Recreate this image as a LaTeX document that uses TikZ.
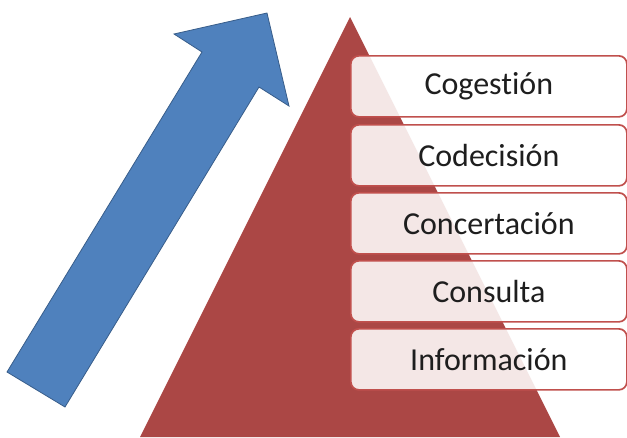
\documentclass[tikz,border=0pt]{standalone}
\usepackage{fontspec}
\setmainfont[Ligatures=NoCommon]{Carlito}
\definecolor{tri}{RGB}{171,71,69}
\definecolor{boxline}{RGB}{192,80,77}
\definecolor{arrowfill}{RGB}{79,129,189}
\definecolor{arrowline}{RGB}{56,93,138}
\definecolor{txt}{RGB}{30,30,30}
\tikzset{
  level/.style={draw=boxline, line width=1.7pt, fill=white, fill opacity=0.87, text opacity=1,
    rounded corners=8pt, minimum width=276pt, minimum height=61pt, inner sep=0pt,
    text=txt, font=\fontsize{32}{38}\selectfont, anchor=north west},
}
\begin{document}
\begin{tikzpicture}[x=1pt,y=-1pt]
\useasboundingbox (0,0) rectangle (627,437);
\clip (0,0) rectangle (627,437);
% arrow
\draw[fill=arrowfill, draw=arrowline, line width=0.8pt, line join=miter]
  (7,372) -- (202,52) -- (174,34) -- (267,13) -- (289,106) -- (259,87) -- (65,407) -- cycle;
% pyramid
\fill[tri] (350,17) -- (560,437) -- (140,437) -- cycle;
% levels
\node[level] (cog) at (350,55) {Cogestión};
\node[level] (cod) at (350,124) {Codecisión};
\node[level] (con) at (350,192) {Concertación};
\node[level] (cns) at (350,260) {Consulta};
\node[level] (inf) at (350,328) {Información};
\end{tikzpicture}
\end{document}
